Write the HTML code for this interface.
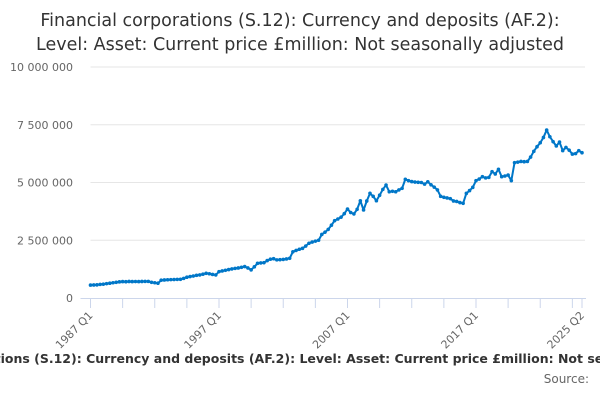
<!DOCTYPE html>
<html><head><meta charset="utf-8"><style>
body{margin:0;background:#fff;width:600px;height:400px;overflow:hidden;font-family:"Liberation Sans","DejaVu Sans",sans-serif}
</style></head><body>
<svg id="chart" width="600" height="400" xmlns="http://www.w3.org/2000/svg" style="font-family:'DejaVu Sans','Liberation Sans',sans-serif">
<text x="300" y="26" text-anchor="middle" font-size="17.5" fill="#333">Financial corporations (S.12): Currency and deposits (AF.2):</text>
<text x="300" y="50" text-anchor="middle" font-size="17.5" fill="#333">Level: Asset: Current price £million: Not seasonally adjusted</text>
<g id="grid"></g>
<g id="xaxis"></g>
<g id="series"></g>
<text x="300" y="363" text-anchor="middle" font-size="12.5" font-weight="bold" fill="#333">Financial corporations (S.12): Currency and deposits (AF.2): Level: Asset: Current price £million: Not seasonally adjusted</text>
<text x="589" y="383" text-anchor="end" font-size="12" fill="#666">Source:</text>
</svg>
<script>
const yTicks=[0,2500000,5000000,7500000,10000000];
const yTickLabels=["0","2 500 000","5 000 000","7 500 000","10 000 000"];
const xLabelIdx=[0,40,80,120,153];
const xLabels=["1987 Q1","1997 Q1","2007 Q1","2017 Q1","2025 Q2"];
const valuesK=[560,565,570,590,600,620,640,660,680,700,
710,705,715,710,712,710,715,720,720,680,
660,640,770,780,790,795,800,805,810,850,
900,930,950,980,1000,1030,1070,1050,1020,1000,
1140,1170,1200,1230,1260,1280,1300,1330,1360,1300,
1220,1350,1500,1520,1530,1620,1680,1700,1650,1660,
1670,1690,1720,2000,2060,2110,2150,2250,2370,2420,
2460,2500,2750,2850,2970,3150,3350,3420,3500,3650,
3850,3700,3640,3840,4210,3810,4200,4530,4400,4210,
4450,4700,4890,4600,4620,4600,4680,4750,5140,5080,
5040,5020,5010,5000,4930,5030,4900,4800,4680,4400,
4360,4330,4300,4200,4180,4130,4100,4530,4650,4790,
5080,5150,5250,5200,5220,5470,5370,5570,5250,5280,
5320,5080,5860,5880,5910,5900,5910,6100,6350,6550,
6720,6950,7270,6980,6770,6580,6750,6380,6520,6400,
6230,6250,6380,6290];
const values=valuesK.map(v=>v*1000);
const NS="http://www.w3.org/2000/svg";
const x0=90.5,x1=582,y0=298,y1=67;
const n=values.length;
const X=i=>x0+i*(x1-x0)/(n-1);
const Y=v=>y0-(v/10000000)*(y0-y1);
function mk(tag,attrs,parent){const e=document.createElementNS(NS,tag);for(const k in attrs)e.setAttribute(k,attrs[k]);parent.appendChild(e);return e;}
const grid=document.getElementById('grid'),xa=document.getElementById('xaxis'),ser=document.getElementById('series');
yTicks.forEach((t,k)=>{
  if(t>0){const l=mk('line',{x1:x0,x2:x1+3,y1:Y(t),y2:Y(t),stroke:'#e6e6e6','stroke-width':1},grid);
  
  }
  const tx=mk('text',{x:73,y:Y(t)+4,'text-anchor':'end','font-size':11,fill:'#666'},grid);
  tx.textContent=yTickLabels[k];
  
  
});
const ax=mk('line',{x1:x0-10,x2:x1+4,y1:y0+0.5,y2:y0+0.5,stroke:'#ccd6eb','stroke-width':1},xa);


for(let i=0;i<n;i+=10){const t=mk('line',{x1:X(i),x2:X(i),y1:y0,y2:y0+10,stroke:'#ccd6eb'},xa);

}
{const t=mk('line',{x1:X(n-1),x2:X(n-1),y1:y0,y2:y0+10,stroke:'#ccd6eb'},xa);

}
xLabelIdx.forEach((i,k)=>{
  const x=X(i)+3,y=y0+18;
  const t=mk('text',{x:x,y:y,'text-anchor':'end','font-size':11,fill:'#666',transform:`rotate(-45 ${x} ${y})`},xa);
  t.textContent=xLabels[k];
  
  
});
const d=values.map((v,i)=>(i?'L':'M')+X(i).toFixed(2)+' '+Y(v).toFixed(2)).join(' ');
const p=mk('path',{d:d,fill:'none',stroke:'#0077c8','stroke-width':2,'stroke-linejoin':'round'},ser);


values.forEach((v,i)=>{const c=mk('circle',{cx:X(i),cy:Y(v),r:1.8,fill:'#0077c8'},ser);

});
</script>
</body></html>
